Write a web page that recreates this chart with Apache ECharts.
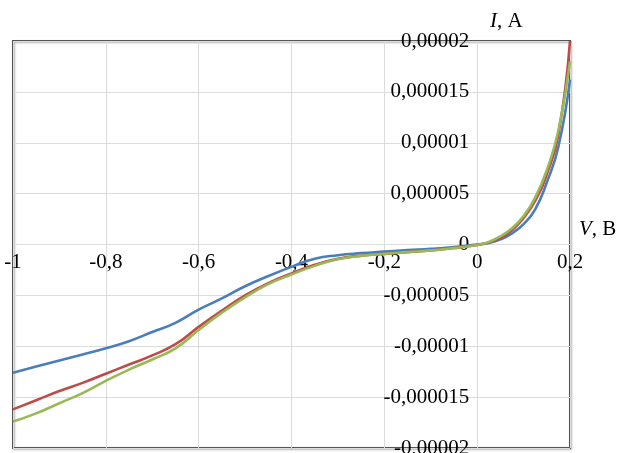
<!DOCTYPE html>
<html>
<head>
<meta charset="utf-8">
<script src="https://cdn.jsdelivr.net/npm/echarts@6/dist/echarts.min.js"></script>
<style>
html,body{margin:0;padding:0;background:#fff;}
#chart{width:622px;height:453px;}
</style>
</head>
<body>
<div id="chart"></div>
<script>
// Voltage, V
var voltage = [-1, -0.95, -0.9, -0.85, -0.8, -0.75, -0.7, -0.65, -0.6, -0.55, -0.5, -0.45, -0.4, -0.35, -0.3, -0.25, -0.2, -0.15, -0.1, -0.05, 0, 0.025, 0.05, 0.075, 0.1, 0.125, 0.15, 0.175, 0.2];
// Current, A
var currentBlue = [-12.6e-6, -12.0e-6, -11.4e-6, -10.8e-6, -10.2e-6, -9.5e-6, -8.6e-6, -7.7e-6, -6.4e-6, -5.3e-6, -4.1e-6, -3.1e-6, -2.2e-6, -1.4e-6, -1.05e-6, -0.85e-6, -0.7e-6, -0.55e-6, -0.43e-6, -0.25e-6, 0, 0.15e-6, 0.5e-6, 1.1e-6, 2.0e-6, 3.45e-6, 6.1e-6, 9.6e-6, 16.2e-6];
var currentRed = [-16.2e-6, -15.3e-6, -14.4e-6, -13.6e-6, -12.7e-6, -11.8e-6, -10.9e-6, -9.8e-6, -8.1e-6, -6.5e-6, -5.0e-6, -3.8e-6, -2.85e-6, -2.0e-6, -1.4e-6, -1.1e-6, -0.92e-6, -0.75e-6, -0.58e-6, -0.35e-6, -0.05e-6, 0.2e-6, 0.65e-6, 1.4e-6, 2.6e-6, 4.3e-6, 6.9e-6, 10.8e-6, 20.0e-6];
var currentGreen = [-17.4e-6, -16.6e-6, -15.6e-6, -14.6e-6, -13.4e-6, -12.3e-6, -11.3e-6, -10.2e-6, -8.4e-6, -6.7e-6, -5.2e-6, -3.9e-6, -2.95e-6, -2.1e-6, -1.45e-6, -1.12e-6, -0.92e-6, -0.75e-6, -0.58e-6, -0.35e-6, -0.05e-6, 0.25e-6, 0.8e-6, 1.6e-6, 2.8e-6, 4.6e-6, 7.3e-6, 11.2e-6, 18.0e-6];
// Tick labels
var xTickLabels = ['-1', '-0,8', '-0,6', '-0,4', '-0,2', '0', '0,2'];
var yTickLabels = ['-0,00002', '-0,000015', '-0,00001', '-0,000005', '0', '0,000005', '0,00001', '0,000015', '0,00002'];

var X_MIN = -1, X_MAX = 0.2, X_STEP = 0.2;
var Y_MIN = -0.00002, Y_MAX = 0.00002, Y_STEP = 0.000005;

function pairs(xs, ys) { return xs.map(function (x, i) { return [x, ys[i]]; }); }

var GRID_W = 557, GRID_H = 407;
// place the axes where the other axis crosses zero
var yAxisShift = -GRID_W * (0 - X_MIN) / (X_MAX - X_MIN);
var xAxisShift = -GRID_H * (0 - Y_MIN) / (Y_MAX - Y_MIN);

var FONT = 'Liberation Serif';
var chart = echarts.init(document.getElementById('chart'), null, {renderer: 'canvas'});
var lineSeries = function (data, color) {
  return {
    type: 'line', data: data, smooth: true, showSymbol: false, symbol: 'none',
    lineStyle: {color: color, width: 2.6}, itemStyle: {color: color},
    z: 3
  };
};
chart.setOption({
  animation: false,
  backgroundColor: '#fff',
  grid: {left: 13, top: 41, width: GRID_W, height: GRID_H, containLabel: false, outerBoundsMode: 'none',
    show: true, borderColor: '#555555', borderWidth: 2, backgroundColor: 'transparent',
    shadowColor: 'rgba(0,0,0,0.3)', shadowBlur: 2, shadowOffsetX: 1, shadowOffsetY: 1},
  xAxis: {
    type: 'value', min: X_MIN, max: X_MAX, interval: X_STEP, position: 'bottom', offset: xAxisShift,
    axisLine: {show: false, onZero: false},
    axisTick: {show: false},
    splitLine: {show: true, lineStyle: {color: '#dcdcdc', width: 1}},
    axisLabel: {
      margin: 7, color: '#000', fontFamily: FONT, fontSize: 21, showMinLabel: true, showMaxLabel: true, hideOverlap: false,
      formatter: function (v) { return xTickLabels[Math.round((v - X_MIN) / X_STEP)]; }
    }
  },
  yAxis: {
    type: 'value', min: Y_MIN, max: Y_MAX, interval: Y_STEP, position: 'left', offset: yAxisShift,
    axisLine: {show: false, onZero: false},
    axisTick: {show: false},
    splitLine: {show: true, lineStyle: {color: '#dcdcdc', width: 1}},
    axisLabel: {
      margin: 8, color: '#000', fontFamily: FONT, fontSize: 21, showMinLabel: true, showMaxLabel: true, hideOverlap: false,
      formatter: function (v) { return yTickLabels[Math.round((v - Y_MIN) / Y_STEP)]; }
    }
  },
  graphic: [
    {type: 'text', left: 490, top: 11, z: 10, style: {text: '{i|I}, A', fontFamily: FONT, fontSize: 21, fill: '#000', rich: {i: {fontStyle: 'italic', fontFamily: FONT, fontSize: 21}}}},
    {type: 'text', left: 579, top: 219, z: 10, style: {text: '{i|V}, B', fontFamily: FONT, fontSize: 21, fill: '#000', rich: {i: {fontStyle: 'italic', fontFamily: FONT, fontSize: 21}}}}
  ],
  series: [
    lineSeries(pairs(voltage, currentBlue), '#4a7ebb'),
    lineSeries(pairs(voltage, currentRed), '#be4b48'),
    lineSeries(pairs(voltage, currentGreen), '#98b954')
  ]
});
</script>
</body>
</html>
